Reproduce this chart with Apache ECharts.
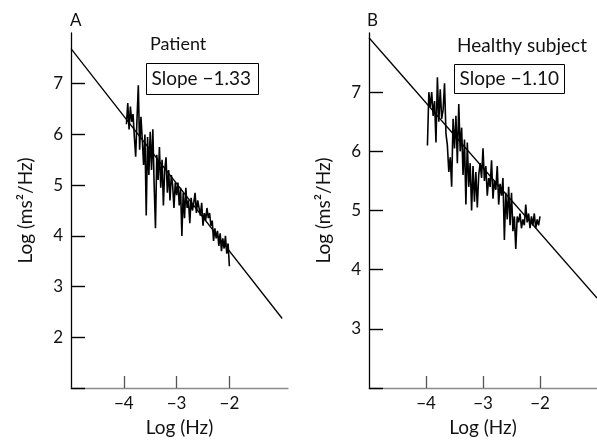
<!DOCTYPE html>
<html>
<head>
<meta charset="utf-8">
<script src="https://cdn.jsdelivr.net/npm/echarts@6/dist/echarts.min.js"></script>
<style>html,body{margin:0;padding:0;background:#fff}#c{width:597px;height:442px}</style>
</head>
<body>
<div id="c"></div>
<script>
// ---- Panel A: Patient ----
const freqA = [-3.950,-3.925,-3.900,-3.875,-3.850,-3.825,-3.800,-3.775,-3.750,-3.725,-3.700,-3.675,-3.650,-3.625,-3.600,-3.575,-3.550,-3.525,-3.500,-3.475,-3.450,-3.425,-3.400,-3.375,-3.350,-3.325,-3.300,-3.275,-3.250,-3.225,-3.200,-3.175,-3.150,-3.125,-3.100,-3.075,-3.050,-3.025,-3.000,-2.975,-2.950,-2.925,-2.900,-2.875,-2.850,-2.825,-2.800,-2.775,-2.750,-2.725,-2.700,-2.675,-2.650,-2.625,-2.600,-2.575,-2.550,-2.525,-2.500,-2.475,-2.450,-2.425,-2.400,-2.375,-2.350,-2.325,-2.300,-2.275,-2.250,-2.225,-2.200,-2.175,-2.150,-2.125,-2.100,-2.075,-2.050,-2.025,-2.000];
const powerA = [6.20,6.62,6.10,6.55,6.25,6.40,5.95,5.56,6.30,6.97,5.70,6.35,5.90,5.40,6.00,4.40,5.95,5.20,6.05,5.30,6.10,5.00,4.15,5.60,5.10,5.75,4.95,5.50,4.60,5.30,5.55,4.85,5.30,4.70,5.20,5.00,4.55,5.05,4.80,5.05,4.60,4.95,4.00,4.85,4.35,4.95,4.55,4.70,4.25,4.75,4.50,4.65,4.85,4.45,4.70,4.55,4.40,4.65,4.20,4.45,4.30,4.55,4.35,4.45,4.20,4.30,3.90,4.15,3.95,4.10,3.80,4.05,3.70,3.95,3.75,4.00,3.65,3.85,3.40];
const fitA = [[-5, 7.69], [-1, 2.37]];
const slopeA = "Slope \u22121.33";
const titleA = "Patient";

// ---- Panel B: Healthy subject ----
const freqB = [-3.975,-3.950,-3.925,-3.900,-3.875,-3.850,-3.825,-3.800,-3.775,-3.750,-3.725,-3.700,-3.675,-3.650,-3.625,-3.600,-3.575,-3.550,-3.525,-3.500,-3.475,-3.450,-3.425,-3.400,-3.375,-3.350,-3.325,-3.300,-3.275,-3.250,-3.225,-3.200,-3.175,-3.150,-3.125,-3.100,-3.075,-3.050,-3.025,-3.000,-2.975,-2.950,-2.925,-2.900,-2.875,-2.850,-2.825,-2.800,-2.775,-2.750,-2.725,-2.700,-2.675,-2.650,-2.625,-2.600,-2.575,-2.550,-2.525,-2.500,-2.475,-2.450,-2.425,-2.400,-2.375,-2.350,-2.325,-2.300,-2.275,-2.250,-2.225,-2.200,-2.175,-2.150,-2.125,-2.100,-2.075,-2.050,-2.025,-2.000];
const powerB = [6.10,7.00,6.75,7.00,6.60,6.85,6.15,7.25,6.50,7.05,6.55,6.70,7.15,6.30,6.10,5.65,5.90,5.40,6.55,6.05,6.60,5.80,6.80,6.00,6.40,5.60,6.20,5.10,6.15,5.40,5.80,5.00,5.75,5.15,5.65,5.05,5.60,5.80,5.55,6.05,5.50,5.75,5.25,5.55,5.40,5.85,5.20,5.50,5.35,5.75,5.10,5.45,5.25,5.55,4.50,5.30,4.85,5.40,4.75,5.30,4.65,4.90,4.35,4.90,4.80,4.95,4.70,4.85,4.75,5.10,4.80,4.95,4.70,4.90,4.75,4.95,4.70,4.85,4.75,4.90];
const fitB = [[-5, 7.92], [-1, 3.52]];
const slopeB = "Slope \u22121.10";
const titleB = "Healthy subject";

const xTicks = [-4, -3, -2];
const yTicksA = [1, 2, 3, 4, 5, 6, 7];
const yLabelsA = [2, 3, 4, 5, 6, 7];
const yTicksB = [2, 3, 4, 5, 6, 7];
const yLabelsB = [3, 4, 5, 6, 7];
const xName = "Log (Hz)";
const yName = "Log (ms\u00b2/Hz)";

const FONT = "Lato";
const minus = v => (v < 0 ? "\u2212" + Math.abs(v) : String(v));

function xAxis(idx, max) {
  return {
    type: 'value', gridIndex: idx, min: -5, max: max,
    name: xName, nameLocation: 'middle', nameGap: 30,
    nameTextStyle: { fontFamily: FONT, fontSize: 19, color: '#111' },
    axisLine: { lineStyle: { color: '#8a8a8a', width: 1.3 } },
    axisTick: { inside: true, length: 12, customValues: xTicks, lineStyle: { color: '#555', width: 1.3 } },
    axisLabel: { customValues: xTicks, formatter: minus, margin: 7, fontFamily: FONT, fontSize: 17, color: '#111' },
    splitLine: { show: false }
  };
}
function yAxis(idx, min, ticks, labels) {
  return {
    type: 'value', gridIndex: idx, min: min, max: 8,
    name: yName, nameLocation: 'middle', nameGap: 36,
    nameTextStyle: { fontFamily: FONT, fontSize: 19, color: '#111' },
    axisLine: { show: true, lineStyle: { color: '#000', width: 1.3 } },
    axisTick: { show: true, inside: true, length: 14, customValues: ticks, lineStyle: { color: '#000', width: 1.4 } },
    axisLabel: { customValues: labels, margin: 8, fontFamily: FONT, fontSize: 17, color: '#111' },
    splitLine: { show: false }
  };
}

function boxed(x, y, w, h, txt) {
  return {
    type: 'group', left: x, top: y,
    children: [
      { type: 'rect', shape: { x: 0, y: 0, width: w, height: h }, style: { fill: '#fff', stroke: '#000', lineWidth: 1 } },
      { type: 'text', x: 5, y: h / 2, style: { text: txt, fontFamily: FONT, fontSize: 19, fill: '#111', verticalAlign: 'middle' } }
    ]
  };
}

const chart = echarts.init(document.getElementById('c'), null, { renderer: 'canvas' });
chart.setOption({
  animation: false,
  backgroundColor: '#fff',
  grid: [
    { left: 71, top: 33, width: 217, height: 355 },
    { left: 369, top: 33, width: 230, height: 355 }
  ],
  xAxis: [xAxis(0, -0.89), xAxis(1, -1)],
  yAxis: [yAxis(0, 1, yTicksA, yLabelsA), yAxis(1, 2, yTicksB, yLabelsB)],
  series: [
    { type: 'line', xAxisIndex: 0, yAxisIndex: 0, data: freqA.map((f, i) => [f, powerA[i]]), showSymbol: false, lineStyle: { color: '#000', width: 1.6 } },
    { type: 'line', xAxisIndex: 0, yAxisIndex: 0, data: fitA, showSymbol: false, lineStyle: { color: '#000', width: 1.3 } },
    { type: 'line', xAxisIndex: 1, yAxisIndex: 1, data: freqB.map((f, i) => [f, powerB[i]]), showSymbol: false, lineStyle: { color: '#000', width: 1.6 } },
    { type: 'line', xAxisIndex: 1, yAxisIndex: 1, data: fitB, showSymbol: false, lineStyle: { color: '#000', width: 1.3 } }
  ],
  graphic: [
    { type: 'text', left: 70, top: 12, style: { text: 'A', fontFamily: FONT, fontSize: 17, fill: '#111' } },
    { type: 'text', left: 367, top: 12, style: { text: 'B', fontFamily: FONT, fontSize: 17, fill: '#111' } },
    { type: 'text', left: 150, top: 35, style: { text: titleA, fontFamily: FONT, fontSize: 18, fill: '#111' } },
    { type: 'text', left: 457, top: 36, style: { text: titleB, fontFamily: FONT, fontSize: 19, fill: '#111' } },
    boxed(146, 63, 112, 31, slopeA),
    boxed(454, 64, 110, 29, slopeB)
  ]
});
</script>
</body>
</html>
